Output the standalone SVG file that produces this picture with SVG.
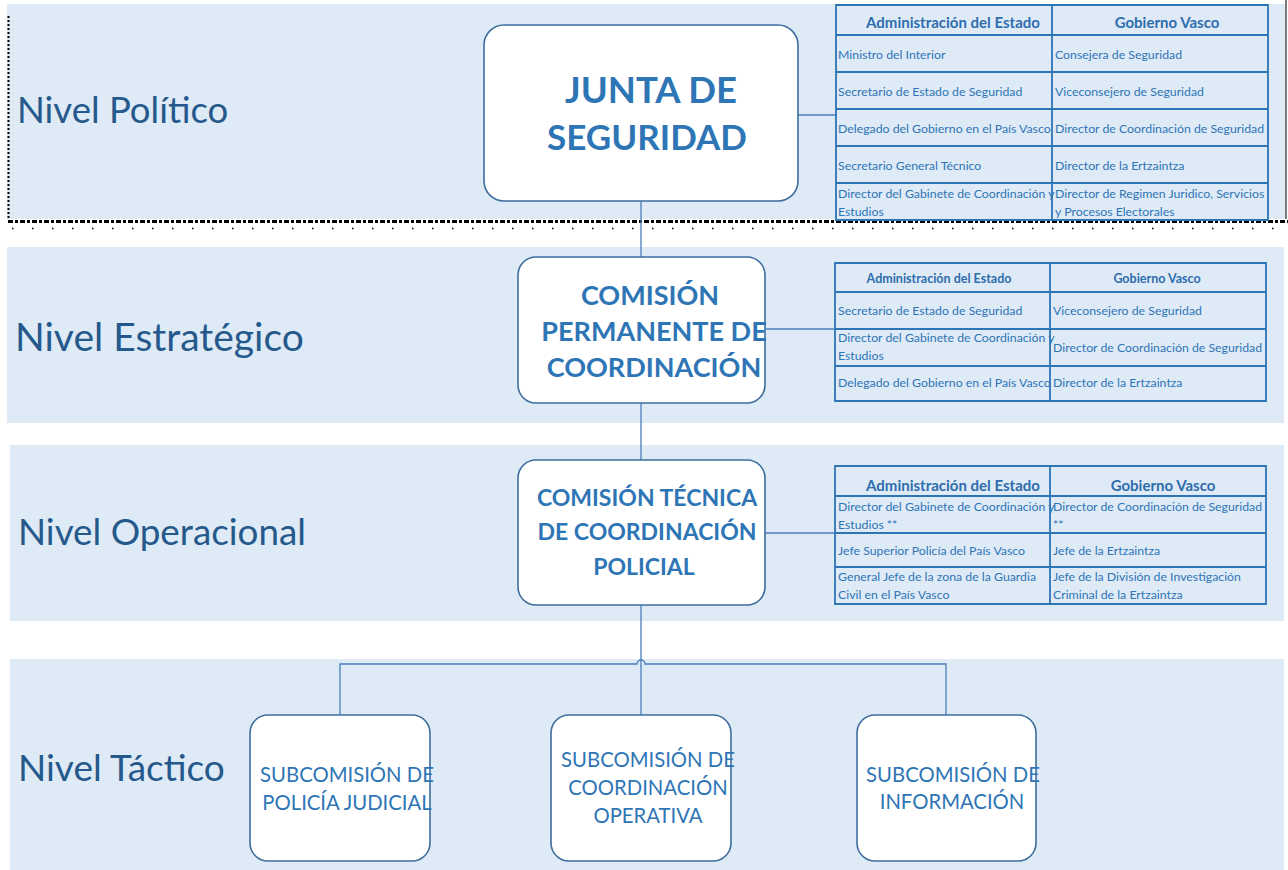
<svg xmlns="http://www.w3.org/2000/svg" width="1288" height="870" viewBox="0 0 1288 870">
<style>
.band{fill:#DEEAF6}
.node{fill:#FFFFFF;stroke:#3E6E9E;stroke-width:1.6}
.lvl{font-family:Lato,"Open Sans",sans-serif;font-size:37px;fill:#25598C}
.nb{font-family:Lato,"Open Sans",sans-serif;font-weight:bold;fill:#2E75B6;text-anchor:middle}
.nr{font-family:Lato,"Open Sans",sans-serif;font-size:20.3px;fill:#2E75B6;text-anchor:middle}
.tb{fill:none;stroke:#2E75B6;stroke-width:1.8}
.th{font-family:Lato,"Open Sans",sans-serif;font-weight:bold;font-size:15px;fill:#2E6DAE;text-anchor:middle}
.td{font-family:Lato,"Open Sans",sans-serif;font-size:12.3px;fill:#2E75B6}
.conn{fill:none;stroke:#4A7EBB;stroke-width:1.3}
</style>
<rect width="1288" height="870" fill="#FFFFFF"/>
<g id="bands">
<rect class="band" x="7" y="4" width="1278" height="215"/>
<line x1="8.5" y1="16" x2="8.5" y2="219" stroke="#000" stroke-width="2" stroke-dasharray="2 2"/>
<line x1="1286" y1="0" x2="1286" y2="219" stroke="#222" stroke-width="1.2"/>
<line x1="8" y1="221.5" x2="1288" y2="221.5" stroke="#000" stroke-width="3" stroke-dasharray="5 2 3 2"/>
<line x1="12" y1="228.5" x2="1288" y2="228.5" stroke="#000" stroke-width="1.5" stroke-dasharray="1.5 18.5"/>
<rect class="band" x="7" y="247" width="1277" height="176"/>
<rect class="band" x="10" y="445" width="1274" height="176"/>
<rect class="band" x="10" y="659" width="1274" height="211"/>
</g>
<g id="levels">
<text class="lvl" x="17" y="123" style="font-size:36.5px">Nivel Político</text>
<text class="lvl" x="15" y="351" style="font-size:39px">Nivel Estratégico</text>
<text class="lvl" x="18" y="545" style="font-size:36.8px">Nivel Operacional</text>
<text class="lvl" x="18" y="781">Nivel Táctico</text>
</g>
<g id="connectors">
<line class="conn" x1="641" y1="201" x2="641" y2="257"/>
<line class="conn" x1="641" y1="403" x2="641" y2="460"/>
<line class="conn" x1="641" y1="605" x2="641" y2="715"/>
<path class="conn" d="M340 715 V664 H637 A4 4 0 0 1 645 664 H946 V715"/>
<line class="conn" x1="798" y1="115" x2="836" y2="115"/>
<line class="conn" x1="765" y1="329" x2="835" y2="329"/>
<line class="conn" x1="765" y1="533" x2="835" y2="533"/>
</g>
<g id="junta">
<rect class="node" x="484" y="25" width="314" height="176" rx="20"/>
<text class="nb" x="651" y="103" style="font-size:36.5px">JUNTA DE</text>
<text class="nb" x="647" y="150" style="font-size:35px">SEGURIDAD</text>
</g>
<g id="comision-permanente">
<rect class="node" x="518" y="257" width="247" height="146" rx="18"/>
<text class="nb" x="650" y="305" style="font-size:27px">COMISIÓN</text>
<text class="nb" x="654" y="341" style="font-size:27px">PERMANENTE DE</text>
<text class="nb" x="654" y="377" style="font-size:27px">COORDINACIÓN</text>
</g>
<g id="comision-tecnica">
<rect class="node" x="518" y="460" width="247" height="145" rx="18"/>
<text class="nb" x="647" y="506" style="font-size:23px">COMISIÓN TÉCNICA</text>
<text class="nb" x="647" y="540" style="font-size:23px">DE COORDINACIÓN</text>
<text class="nb" x="644" y="575" style="font-size:23px">POLICIAL</text>
</g>
<g id="sub-policia-judicial">
<rect class="node" x="250" y="715" width="180" height="146" rx="18"/>
<text class="nr" x="347" y="782">SUBCOMISIÓN DE</text>
<text class="nr" x="347" y="810">POLICÍA JUDICIAL</text>
</g>
<g id="sub-coordinacion-operativa">
<rect class="node" x="551" y="715" width="180" height="146" rx="18"/>
<text class="nr" x="648" y="767">SUBCOMISIÓN DE</text>
<text class="nr" x="648" y="795">COORDINACIÓN</text>
<text class="nr" x="648" y="823">OPERATIVA</text>
</g>
<g id="sub-informacion">
<rect class="node" x="857" y="715" width="179" height="146" rx="18"/>
<text class="nr" x="953" y="782">SUBCOMISIÓN DE</text>
<text class="nr" x="952" y="809">INFORMACIÓN</text>
</g>
<g id="tabla-politico">
<rect x="836" y="5" width="432" height="215" fill="#DEEAF6"/>
<path class="tb" d="M836 5 H1268 V220 H836 Z M1052 5 V220 M836 35 H1268 M836 72 H1268 M836 109 H1268 M836 146 H1268 M836 183 H1268"/>
<text class="th" x="953" y="28">Administración del Estado</text>
<text class="th" x="1167" y="28">Gobierno Vasco</text>
<text class="td" x="838" y="59">Ministro del Interior</text>
<text class="td" x="1055" y="59">Consejera de Seguridad</text>
<text class="td" x="838" y="96">Secretario de Estado de Seguridad</text>
<text class="td" x="1055" y="96">Viceconsejero de Seguridad</text>
<text class="td" x="838" y="133">Delegado del Gobierno en el País Vasco</text>
<text class="td" x="1055" y="133">Director de Coordinación de Seguridad</text>
<text class="td" x="838" y="170">Secretario General Técnico</text>
<text class="td" x="1055" y="170">Director de la Ertzaintza</text>
<text class="td" x="838" y="198">Director del Gabinete de Coordinación y</text>
<text class="td" x="838" y="216">Estudios</text>
<text class="td" x="1055" y="198">Director de Regimen Juridico, Servicios</text>
<text class="td" x="1055" y="216">y Procesos Electorales</text>
</g>
<g id="tabla-estrategico">
<path class="tb" d="M835 263 H1266 V401 H835 Z M1050 263 V401 M835 292 H1266 M835 329 H1266 M835 366 H1266"/>
<text class="th" x="939" y="283" style="font-size:12.5px">Administración del Estado</text>
<text class="th" x="1157" y="283" style="font-size:12.5px">Gobierno Vasco</text>
<text class="td" x="838" y="315">Secretario de Estado de Seguridad</text>
<text class="td" x="1053" y="315">Viceconsejero de Seguridad</text>
<text class="td" x="838" y="342">Director del Gabinete de Coordinación y</text>
<text class="td" x="838" y="360">Estudios</text>
<text class="td" x="1053" y="352">Director de Coordinación de Seguridad</text>
<text class="td" x="838" y="387">Delegado del Gobierno en el País Vasco</text>
<text class="td" x="1053" y="387">Director de la Ertzaintza</text>
</g>
<g id="tabla-operacional">
<path class="tb" d="M835 466 H1266 V604 H835 Z M1050 466 V604 M835 496 H1266 M835 533 H1266 M835 567 H1266"/>
<text class="th" x="953" y="491">Administración del Estado</text>
<text class="th" x="1163" y="491">Gobierno Vasco</text>
<text class="td" x="838" y="511">Director del Gabinete de Coordinación y</text>
<text class="td" x="838" y="529">Estudios **</text>
<text class="td" x="1053" y="511">Director de Coordinación de Seguridad</text>
<text class="td" x="1053" y="529">**</text>
<text class="td" x="838" y="555">Jefe Superior Policía del País Vasco</text>
<text class="td" x="1053" y="555">Jefe de la Ertzaintza</text>
<text class="td" x="838" y="581">General Jefe de la zona de la Guardia</text>
<text class="td" x="838" y="599">Civil en el País Vasco</text>
<text class="td" x="1053" y="581">Jefe de la División de Investigación</text>
<text class="td" x="1053" y="599">Criminal de la Ertzaintza</text>
</g>
</svg>
